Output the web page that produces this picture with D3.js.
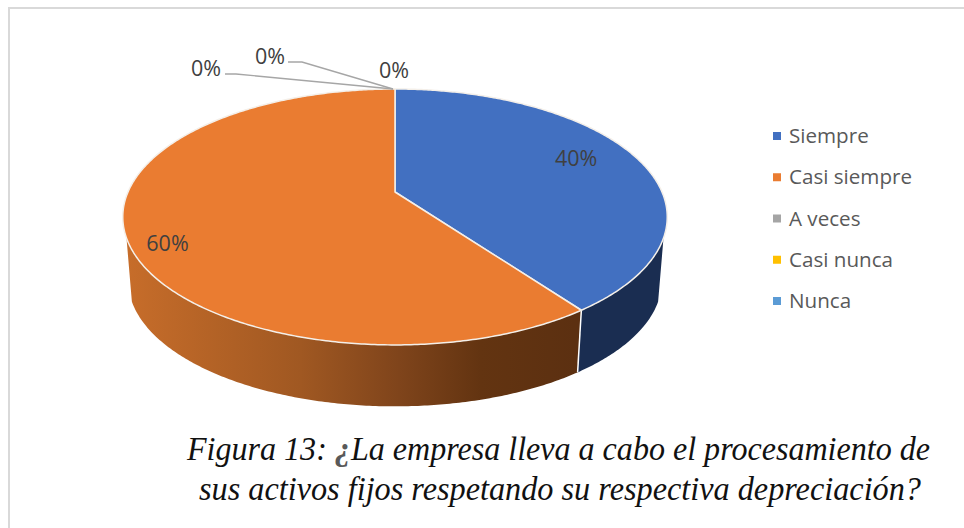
<!DOCTYPE html>
<html><head><meta charset="utf-8">
<script src="https://cdn.jsdelivr.net/npm/d3@7/dist/d3.min.js"></script>
<style>html,body{margin:0;padding:0;background:#fff}svg{display:block}</style>
</head><body><svg id="c" width="964" height="528"></svg>
<script>
const categories = ["Siempre","Casi siempre","A veces","Casi nunca","Nunca"];
const values = [40,60,0,0,0];
const percentLabels = ["40%","60%","0%","0%","0%"];
const colors = ["#4270c1","#ea7c31","#a5a5a5","#ffc000","#5b9bd5"];
const wallColors = ["#1a2d51","url(#wallOrange)","#636363","#997300","#255e91"];
const captionLines = ["¿La empresa lleva a cabo el procesamiento de","sus activos fijos respetando su respectiva depreciación?"];
const captionPrefix = "Figura 13: ";

// view parameters of the tilted disc
const view = {cx:395, cy:192, a:267, b:123.1, c:0.195, ellipseCy:217, wallDrop:64, wallScale:0.98,
  wallFrom:110.4*Math.PI/180, wallTo:249.6*Math.PI/180};

const svg = d3.select("#c");
const pie = d3.pie().sort(null).value(d=>d)(values);

function top3d(t,r=1){
  const u=Math.sin(t)*r, v=-Math.cos(t)*r, d=1-view.c*v;
  return [view.cx+view.a*u/d, view.cy+view.b*v/d];
}
function bottom3d(t){
  const p=top3d(t);
  return [view.cx+(p[0]-view.cx)*view.wallScale,
          view.ellipseCy+(p[1]-view.ellipseCy)*view.wallScale+view.wallDrop];
}
const line=d3.line();
const samples=(a,b)=>{const n=Math.max(1,Math.ceil((b-a)/0.01));return d3.range(n+1).map(i=>a+(b-a)*i/n)};

// gradient of the front wall
const defs=svg.append("defs");
const wallStops=[[0,"#c76d2a"],[0.39,"#a05822"],[0.61,"#7f441b"],[0.79,"#633411"],[1,"#5c3011"]];
defs.append("linearGradient").attr("id","wallOrange").attr("gradientUnits","userSpaceOnUse")
  .attr("x1",125).attr("x2",575).attr("y1",0).attr("y2",0)
  .selectAll("stop").data(wallStops).join("stop")
  .attr("offset",d=>d[0]).attr("stop-color",d=>d[1]);

// frame
svg.append("path").attr("d","M9,528V8H964").attr("fill","none").attr("stroke","#d9d9d9").attr("stroke-width",2);

// walls
svg.append("g").selectAll("path").data(pie.filter(d=>d.endAngle>d.startAngle)).join("path")
  .attr("d",d=>{
    const a=Math.max(d.startAngle,view.wallFrom), b=Math.min(d.endAngle,view.wallTo);
    const ts=samples(a,b);
    return line(ts.map(t=>top3d(t)).concat(ts.slice().reverse().map(bottom3d)))+"Z";
  })
  .attr("fill",(d,i)=>wallColors[i]);
// white seam between walls
svg.append("g").selectAll("path").data(pie.filter(d=>d.startAngle>view.wallFrom&&d.startAngle<view.wallTo&&d.endAngle>d.startAngle)).join("path")
  .attr("d",d=>line([top3d(d.startAngle),bottom3d(d.startAngle)]))
  .attr("stroke","#fff").attr("stroke-width",1.5).attr("fill","none");

// top face
svg.append("g").selectAll("path").data(pie.filter(d=>d.endAngle>d.startAngle)).join("path")
  .attr("d",d=>line([[view.cx,view.cy]].concat(samples(d.startAngle,d.endAngle).map(t=>top3d(t))))+"Z")
  .attr("fill",(d,i)=>colors[i]).attr("stroke","#f4efe9").attr("stroke-width",1.5).attr("stroke-linejoin","round");

// leader lines and data labels
const labelFont="'Open Sans','Noto Sans',sans-serif";
const labelPlace=[{r:.75,dx:-1,dy:-7},{r:.85,dx:0,dy:16},{r:1,dx:-1,dy:-19},{r:1,dx:-125,dy:-33},{r:1,dx:-189,dy:-21}];
const leaderBends=[null,null,null,[[-93,-27],[-107,-27]],[[-159,-15],[-170,-15]]];
const labelPos=pie.map((d,i)=>{
  const p=top3d((d.startAngle+d.endAngle)/2,labelPlace[i].r);
  return {x:p[0]+labelPlace[i].dx,y:p[1]+labelPlace[i].dy,anchor:p,bend:leaderBends[i]};
});
svg.append("g").selectAll("path").data(labelPos.filter(d=>d.bend)).join("path")
  .attr("d",d=>line([[d.anchor[0]-2,d.anchor[1]]].concat(d.bend.map(b=>[d.anchor[0]+b[0],d.anchor[1]+b[1]]))))
  .attr("fill","none").attr("stroke","#a6a6a6").attr("stroke-width",1.4);
svg.append("g").selectAll("text").data(labelPos).join("text")
  .attr("x",d=>d.x).attr("y",d=>d.y).attr("text-anchor","middle").attr("dominant-baseline","central")
  .attr("font-family",labelFont).attr("font-size",21.5).attr("fill","#404040")
  .text((d,i)=>percentLabels[i]);

// legend
const legendY=d3.scalePoint().domain(categories).range([136,301]);
const leg=svg.append("g").selectAll("g").data(categories).join("g")
  .attr("transform",d=>`translate(773,${legendY(d)})`);
leg.append("rect").attr("x",0).attr("y",-4).attr("width",8).attr("height",8).attr("fill",(d,i)=>colors[i]);
leg.append("text").attr("x",16).attr("y",-1).attr("dominant-baseline","central")
  .attr("font-family",labelFont).attr("font-size",20.6).attr("fill","#595959").text(d=>d);

// caption
const cap=svg.append("g").attr("font-family","'Liberation Serif',serif").attr("font-style","italic").attr("font-size",33).attr("fill","#111");
const t1=cap.append("text").attr("x",187).attr("y",460).attr("textLength",743).attr("lengthAdjust","spacingAndGlyphs");
t1.append("tspan").text(captionPrefix);
t1.append("tspan").attr("fill","#595959").attr("font-weight","bold").text(captionLines[0].slice(0,1));
t1.append("tspan").text(captionLines[0].slice(1));
cap.append("text").attr("x",199).attr("y",500).attr("textLength",722).attr("lengthAdjust","spacingAndGlyphs").text(captionLines[1]);
</script></body></html>
